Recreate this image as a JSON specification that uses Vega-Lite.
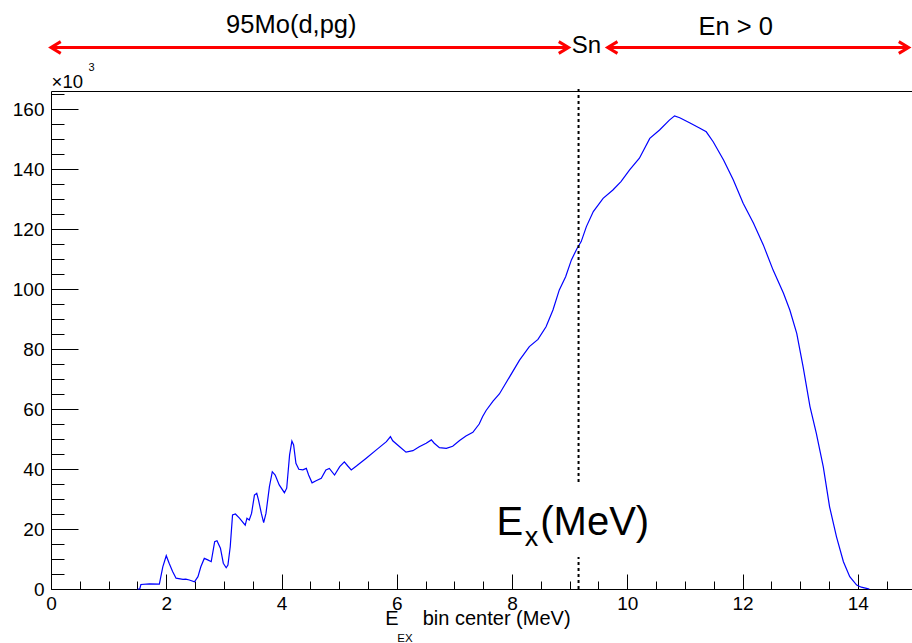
{
  "$schema": "https://vega.github.io/schema/vega-lite/v6.json",
  "width": 861,
  "height": 498,
  "autosize": {"type": "none"},
  "padding": {"left": 51, "top": 91, "right": 0, "bottom": 54},
  "background": "white",
  "config": {
    "view": {"stroke": null},
    "axis": {"grid": false, "domainColor": "black", "tickColor": "black", "labelColor": "black", "labelFont": "Liberation Sans", "labelFontSize": 19, "domainWidth": 1, "tickWidth": 1, "labelOverlap": false, "labelFlush": false, "labelBound": false},
    "text": {"font": "Liberation Sans", "color": "black"}
  },
  "resolve": {"axis": {"x": "independent", "y": "independent"}},
  "layer": [
    {
      "data": {"values": [
        {"E":1.50,"N":0},{"E":1.54,"N":0},{"E":1.56,"N":1.5},{"E":1.71,"N":1.7},{"E":1.88,"N":1.6},{"E":1.94,"N":7.4},{"E":2.00,"N":11.1},{"E":2.05,"N":8.6},{"E":2.11,"N":5.8},{"E":2.17,"N":3.6},{"E":2.29,"N":3.2},{"E":2.34,"N":3.3},{"E":2.40,"N":3.0},{"E":2.49,"N":2.4},{"E":2.55,"N":4.1},{"E":2.60,"N":7.4},{"E":2.66,"N":10.2},{"E":2.72,"N":9.7},{"E":2.78,"N":9.1},{"E":2.84,"N":15.8},{"E":2.88,"N":16.1},{"E":2.94,"N":13.6},{"E":2.99,"N":8.6},{"E":3.04,"N":7.1},{"E":3.07,"N":8.0},{"E":3.11,"N":14.1},{"E":3.15,"N":24.7},{"E":3.20,"N":25.0},{"E":3.27,"N":23.6},{"E":3.37,"N":21.3},{"E":3.40,"N":23.6},{"E":3.44,"N":23.0},{"E":3.48,"N":25.2},{"E":3.53,"N":31.3},{"E":3.57,"N":31.9},{"E":3.60,"N":29.7},{"E":3.65,"N":25.2},{"E":3.69,"N":22.1},{"E":3.73,"N":25.2},{"E":3.79,"N":34.1},{"E":3.84,"N":39.1},{"E":3.89,"N":38.0},{"E":3.96,"N":34.7},{"E":4.05,"N":32.1},{"E":4.09,"N":33.6},{"E":4.14,"N":44.7},{"E":4.18,"N":49.3},{"E":4.21,"N":48.0},{"E":4.25,"N":41.9},{"E":4.30,"N":39.9},{"E":4.37,"N":39.7},{"E":4.43,"N":40.2},{"E":4.47,"N":38.0},{"E":4.53,"N":35.4},{"E":4.60,"N":36.1},{"E":4.69,"N":36.9},{"E":4.77,"N":39.7},{"E":4.83,"N":40.2},{"E":4.92,"N":38.0},{"E":5.01,"N":40.8},{"E":5.09,"N":42.4},{"E":5.15,"N":41.0},{"E":5.21,"N":39.7},{"E":5.30,"N":41.0},{"E":5.47,"N":43.6},{"E":5.64,"N":46.3},{"E":5.82,"N":49.1},{"E":5.89,"N":50.8},{"E":5.93,"N":49.4},{"E":6.05,"N":47.4},{"E":6.16,"N":45.6},{"E":6.28,"N":46.1},{"E":6.39,"N":47.4},{"E":6.51,"N":48.6},{"E":6.60,"N":49.7},{"E":6.65,"N":48.6},{"E":6.74,"N":47.1},{"E":6.86,"N":46.9},{"E":6.97,"N":47.6},{"E":7.09,"N":49.5},{"E":7.20,"N":51.0},{"E":7.32,"N":52.2},{"E":7.43,"N":55.0},{"E":7.49,"N":57.5},{"E":7.55,"N":59.5},{"E":7.67,"N":62.6},{"E":7.78,"N":65.0},{"E":7.96,"N":70.8},{"E":8.13,"N":76.3},{"E":8.30,"N":80.8},{"E":8.45,"N":83.2},{"E":8.59,"N":87.4},{"E":8.71,"N":93.0},{"E":8.82,"N":99.7},{"E":8.93,"N":104.1},{"E":9.03,"N":109.7},{"E":9.13,"N":113.6},{"E":9.20,"N":115.8},{"E":9.29,"N":120.8},{"E":9.41,"N":125.8},{"E":9.58,"N":130.2},{"E":9.75,"N":133.0},{"E":9.89,"N":135.8},{"E":10.04,"N":139.7},{"E":10.21,"N":143.6},{"E":10.39,"N":150.2},{"E":10.56,"N":153.0},{"E":10.73,"N":156.3},{"E":10.82,"N":157.7},{"E":10.91,"N":157.1},{"E":11.08,"N":155.4},{"E":11.26,"N":153.6},{"E":11.37,"N":152.4},{"E":11.49,"N":149.1},{"E":11.67,"N":143.0},{"E":11.84,"N":136.3},{"E":12.01,"N":128.6},{"E":12.19,"N":121.9},{"E":12.36,"N":114.7},{"E":12.53,"N":106.3},{"E":12.71,"N":98.6},{"E":12.82,"N":93.0},{"E":12.94,"N":85.2},{"E":13.05,"N":74.1},{"E":13.17,"N":60.8},{"E":13.28,"N":51.9},{"E":13.40,"N":40.8},{"E":13.51,"N":27.4},{"E":13.63,"N":17.4},{"E":13.75,"N":9.1},{"E":13.86,"N":4.1},{"E":13.98,"N":1.3},{"E":14.06,"N":0.6},{"E":14.15,"N":0.2},{"E":14.20,"N":0}
      ]},
      "mark": {"type": "line", "color": "#0000ff", "strokeWidth": 1.2},
      "encoding": {
        "x": {"field": "E", "type": "quantitative", "scale": {"domain": [0, 14.94], "nice": false, "zero": false},
              "axis": {"orient": "bottom", "title": null, "values": [0,2,4,6,8,10,12,14], "ticks": false, "labelPadding": 5, "format": "d"}},
        "y": {"field": "N", "type": "quantitative", "scale": {"domain": [0, 166], "nice": false, "zero": false},
              "axis": {"orient": "left", "title": null, "values": [0,20,40,60,80,100,120,140,160], "ticks": false, "labelPadding": 7, "format": "d"}}
      }
    },
    {
      "data": {"values": [{"x": 9.154, "ya": 0, "yb": 10.7}, {"x": 9.154, "ya": 35.7, "yb": 167.3}]},
      "mark": {"type": "rule", "color": "black", "strokeWidth": 2, "strokeDash": [3, 3]},
      "encoding": {
        "x": {"field": "x", "type": "quantitative", "scale": {"domain": [0, 14.94], "nice": false, "zero": false},
              "axis": {"orient": "bottom", "title": null, "values": [0,2,4,6,8,10,12,14], "labels": false, "domain": false, "tickSize": -15}},
        "y": {"field": "ya", "type": "quantitative", "scale": {"domain": [0, 166], "nice": false, "zero": false},
              "axis": {"orient": "left", "title": null, "values": [0,20,40,60,80,100,120,140,160], "labels": false, "domain": false, "tickSize": -27}},
        "y2": {"field": "yb"}
      }
    },
    {
      "data": {"values": [{"xa": 0, "xb": 8.98, "y": 180.5}, {"xa": 9.66, "xb": 14.88, "y": 180.5}]},
      "mark": {"type": "rule", "color": "#ff0000", "strokeWidth": 3},
      "encoding": {
        "x": {"field": "xa", "type": "quantitative", "scale": {"domain": [0, 14.94], "nice": false, "zero": false},
              "axis": {"orient": "bottom", "title": null, "values": [0.5,1,1.5,2.5,3,3.5,4.5,5,5.5,6.5,7,7.5,8.5,9,9.5,10.5,11,11.5,12.5,13,13.5,14.5], "labels": false, "domain": false, "tickSize": -8}},
        "x2": {"field": "xb"},
        "y": {"field": "y", "type": "quantitative", "scale": {"domain": [0, 166], "nice": false, "zero": false},
              "axis": {"orient": "left", "title": null, "values": [5,10,15,25,30,35,45,50,55,65,70,75,85,90,95,105,110,115,125,130,135,145,150,155,165], "labels": false, "domain": false, "tickSize": -13}}
      }
    },
    {
      "data": {"values": [{"x": 0, "y": 180.5, "d": "L"}, {"x": 8.98, "y": 180.5, "d": "R"}, {"x": 9.66, "y": 180.5, "d": "L"}, {"x": 14.88, "y": 180.5, "d": "R"}]},
      "mark": {"type": "point", "filled": false, "color": "#ff0000", "strokeWidth": 3, "size": 380, "opacity": 1},
      "encoding": {
        "x": {"field": "x", "type": "quantitative", "scale": {"domain": [0, 14.94], "nice": false, "zero": false},
              "axis": {"orient": "top", "title": null, "values": [], "labels": false, "ticks": false, "domain": true}},
        "y": {"field": "y", "type": "quantitative", "scale": {"domain": [0, 166], "nice": false, "zero": false}, "axis": null},
        "shape": {"field": "d", "type": "nominal", "scale": {"domain": ["L", "R"], "range": ["M1,-0.6L0,0L1,0.6", "M-1,-0.6L0,0L-1,0.6"]}, "legend": null}
      }
    },
    {
      "data": {"values": [{"x": 4.17, "y": 185.3, "t": "95Mo(d,pg)"}, {"x": 11.88, "y": 184.7, "t": "En > 0"}]},
      "mark": {"type": "text", "fontSize": 25.5, "align": "center", "baseline": "alphabetic"},
      "encoding": {
        "x": {"field": "x", "type": "quantitative", "axis": null},
        "y": {"field": "y", "type": "quantitative", "axis": null},
        "text": {"field": "t"}
      }
    },
    {
      "data": {"values": [{"x": 9.29, "y": 178.7, "t": "Sn"}]},
      "mark": {"type": "text", "fontSize": 24, "align": "center", "baseline": "alphabetic"},
      "encoding": {
        "x": {"field": "x", "type": "quantitative", "axis": null},
        "y": {"field": "y", "type": "quantitative", "axis": null},
        "text": {"field": "t"}
      }
    },
    {
      "data": {"values": [{"x": 7.73, "y": 18, "t": "E"}, {"x": 8.49, "y": 18, "t": "(MeV)"}]},
      "mark": {"type": "text", "fontSize": 40, "align": "left", "baseline": "alphabetic"},
      "encoding": {
        "x": {"field": "x", "type": "quantitative", "axis": null},
        "y": {"field": "y", "type": "quantitative", "axis": null},
        "text": {"field": "t"}
      }
    },
    {
      "data": {"values": [{"x": 8.22, "y": 14.3, "t": "x"}]},
      "mark": {"type": "text", "fontSize": 27, "align": "left", "baseline": "alphabetic"},
      "encoding": {
        "x": {"field": "x", "type": "quantitative", "axis": null},
        "y": {"field": "y", "type": "quantitative", "axis": null},
        "text": {"field": "t"}
      }
    },
    {
      "data": {"values": [{"x": 5.80, "y": -12, "t": "E"}, {"x": 6.45, "y": -12, "t": "bin center (MeV)"}]},
      "mark": {"type": "text", "fontSize": 20, "align": "left", "baseline": "alphabetic"},
      "encoding": {
        "x": {"field": "x", "type": "quantitative", "axis": null},
        "y": {"field": "y", "type": "quantitative", "axis": null},
        "text": {"field": "t"}
      }
    },
    {
      "data": {"values": [{"x": 6.01, "y": -17.6, "t": "EX"}]},
      "mark": {"type": "text", "fontSize": 11.5, "align": "left", "baseline": "alphabetic"},
      "encoding": {
        "x": {"field": "x", "type": "quantitative", "axis": null},
        "y": {"field": "y", "type": "quantitative", "axis": null},
        "text": {"field": "t"}
      }
    },
    {
      "data": {"values": [{"x": 0.01, "y": 167, "t": "×10"}]},
      "mark": {"type": "text", "fontSize": 18.5, "align": "left", "baseline": "alphabetic"},
      "encoding": {
        "x": {"field": "x", "type": "quantitative", "axis": null},
        "y": {"field": "y", "type": "quantitative", "axis": null},
        "text": {"field": "t"}
      }
    },
    {
      "data": {"values": [{"x": 0.65, "y": 172.7, "t": "3"}]},
      "mark": {"type": "text", "fontSize": 11, "align": "left", "baseline": "alphabetic"},
      "encoding": {
        "x": {"field": "x", "type": "quantitative", "axis": null},
        "y": {"field": "y", "type": "quantitative", "axis": null},
        "text": {"field": "t"}
      }
    }
  ]
}
